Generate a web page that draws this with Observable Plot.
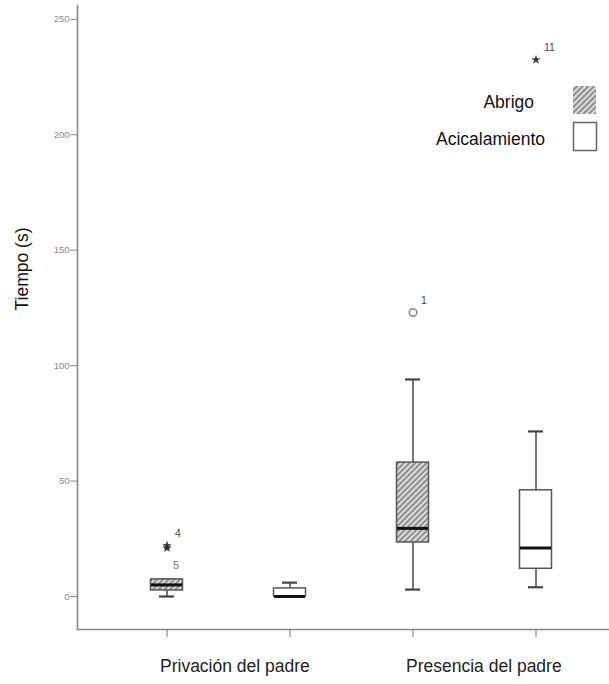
<!DOCTYPE html>
<html>
<head>
<meta charset="utf-8">
<script src="https://cdn.jsdelivr.net/npm/d3@7"></script>
<script src="https://cdn.jsdelivr.net/npm/@observablehq/plot@0.6"></script>
<style>
  html, body { margin: 0; padding: 0; background: #fff; }
  #chart { width: 609px; height: 684px; }
  svg { font-family: "Liberation Sans", Arial, sans-serif; }
</style>
</head>
<body>
<div id="chart"></div>
<script>
// ---- data ----
const groups = ["Privación del padre", "Presencia del padre"];
const behaviours = ["Abrigo", "Acicalamiento"];
// order: Privación-Abrigo, Privación-Acicalamiento, Presencia-Abrigo, Presencia-Acicalamiento
const whiskerLow  = [0,   0,   3,    4];
const q1          = [2.6, 0,   23.4, 12];
const medians     = [5,   0,   29.5, 21];
const q3          = [7.4, 3.5, 58,   46];
const whiskerHigh = [7.4, 6,   94,   71.5];
const outlierGroup     = ["Privación del padre", "Privación del padre", "Presencia del padre", "Presencia del padre"];
const outlierBehaviour = ["Abrigo", "Abrigo", "Abrigo", "Acicalamiento"];
const outlierValue     = [22, 21, 123, 232.5];
const outlierCase      = ["4", "5", "1", "11"];
const outlierKind      = ["extreme", "extreme", "outlier", "extreme"];
const yTicks = [0, 50, 100, 150, 200, 250];
const yLabel = "Tiempo (s)";

// ---- tables ----
const key = (g, b) => g + "|" + b;
const keys = groups.flatMap(g => behaviours.map(b => key(g, b)));
const boxes = keys.map((k, i) => ({
  key: k, behaviour: behaviours[i % 2],
  lo: whiskerLow[i], q1: q1[i], median: medians[i], q3: q3[i], hi: whiskerHigh[i]
}));
const outliers = outlierValue.map((v, i) => ({
  key: key(outlierGroup[i], outlierBehaviour[i]), value: v, label: outlierCase[i], kind: outlierKind[i]
}));

const chart = Plot.plot({
  width: 609,
  height: 684,
  marginLeft: 77,
  marginRight: 0,
  marginTop: 5,
  marginBottom: 55,
  style: {fontFamily: '"Liberation Sans", Arial, sans-serif', background: "#fff"},
  x: {type: "band", domain: keys, range: [104.2, 598.8], padding: 0, axis: null},
  y: {domain: [-14.3, 256], axis: null},
  marks: [
    Plot.frame({anchor: "left", stroke: "#888", strokeWidth: 1.6}),
    Plot.frame({anchor: "bottom", stroke: "#888", strokeWidth: 1.6}),
    Plot.axisY({ticks: yTicks, tickSize: 7, tickPadding: 1, fontSize: 9.5, color: "#888", label: null}),
    Plot.axisX({tickSize: 8, tickFormat: () => "", color: "#777", label: null}),
    // whiskers
    Plot.ruleX(boxes, {x: "key", y1: "lo", y2: "hi", stroke: "#555", strokeWidth: 1.6}),
    Plot.tickY(boxes, {x: "key", y: "lo", insetLeft: 54, insetRight: 54, stroke: "#444", strokeWidth: 2.2}),
    Plot.tickY(boxes, {x: "key", y: "hi", insetLeft: 54, insetRight: 54, stroke: "#444", strokeWidth: 2.2}),
    // boxes
    Plot.barY(boxes.filter(d => d.behaviour === "Abrigo"), {x: "key", y1: "q1", y2: "q3", fill: "url(#hatch)", stroke: "#555", strokeWidth: 1.5, insetLeft: 45.5, insetRight: 45.5}),
    Plot.barY(boxes.filter(d => d.behaviour !== "Abrigo"), {x: "key", y1: "q1", y2: "q3", fill: "white", stroke: "#555", strokeWidth: 1.5, insetLeft: 45.5, insetRight: 45.5}),
    Plot.tickY(boxes, {x: "key", y: "median", insetLeft: 46, insetRight: 46, stroke: "#111", strokeWidth: 3}),
    // outliers
    Plot.dot(outliers.filter(d => d.kind === "extreme"), {x: "key", y: "value", symbol: "star", r: 2.6, fill: "#333", stroke: "#333", strokeWidth: 0.4}),
    Plot.dot(outliers.filter(d => d.kind === "outlier"), {x: "key", y: "value", symbol: "circle", r: 3.8, fill: "none", stroke: "#888", strokeWidth: 1.5}),
    Plot.text(outliers.filter(d => d.label !== "5"), {x: "key", y: "value", text: "label", dx: 8, dy: -12, fontSize: 10.5, fill: "#444", textAnchor: "start"}),
    Plot.text(outliers.filter(d => d.label === "5"), {x: "key", y: "value", text: "label", dx: 6, dy: 17, fontSize: 11, fill: "#777", textAnchor: "start"}),
    // group labels
    Plot.text(groups, {x: g => key(g, behaviours[0]), text: d => d, frameAnchor: "bottom", dy: 42, dx: -7, textAnchor: "start", fontSize: 17.5, fill: "#222"}),
    // y label
    Plot.text([yLabel], {frameAnchor: "left", rotate: -90, dx: -55, dy: -7, fontSize: 17.5, fill: "#111"})
  ]
});

const svg = d3.select(chart);
const defs = svg.insert("defs", ":first-child");
const pat = defs.append("pattern").attr("id", "hatch").attr("patternUnits", "userSpaceOnUse")
  .attr("width", 4).attr("height", 4).attr("patternTransform", "rotate(45)");
pat.append("rect").attr("width", 4).attr("height", 4).attr("fill", "#dcdcdc");
pat.append("line").attr("x1", 1).attr("y1", 0).attr("x2", 1).attr("y2", 4).attr("stroke", "#7a7a7a").attr("stroke-width", 1.6);

// legend
const legend = svg.append("g").attr("font-size", 17.5).attr("fill", "#111");
legend.append("text").attr("x", 534).attr("y", 108).attr("text-anchor", "end").text(behaviours[0]);
legend.append("rect").attr("x", 573).attr("y", 86).attr("width", 23).attr("height", 28)
  .attr("fill", "url(#hatch)").attr("stroke", "none");
legend.append("text").attr("x", 545).attr("y", 145).attr("text-anchor", "end").text(behaviours[1]);
legend.append("rect").attr("x", 573.5).attr("y", 122.5).attr("width", 23).attr("height", 28)
  .attr("fill", "white").attr("stroke", "#666").attr("stroke-width", 1.5);

document.getElementById("chart").appendChild(chart);
</script>
</body>
</html>
